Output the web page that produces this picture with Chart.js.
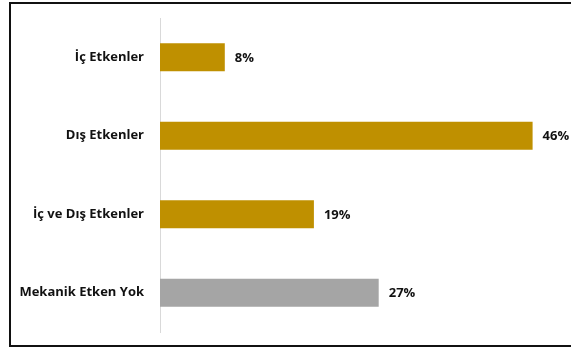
<!DOCTYPE html>
<html>
<head>
<meta charset="utf-8">
<script src="https://cdn.jsdelivr.net/npm/chart.js@4.4.0/dist/chart.umd.min.js"></script>
<style>
  html, body { margin: 0; padding: 0; background: #fff; overflow: hidden; }
  #wrap { position: relative; width: 571px; height: 347px; overflow: hidden; }
  canvas { position: absolute; left: 0; top: 0; }
  #frame { position: absolute; left: 9px; top: 2px; width: 580px; height: 341px; border: 2px solid #111; border-right: none; pointer-events: none; }
</style>
</head>
<body>
<div id="wrap">
  <canvas id="c" width="571" height="347"></canvas>
  <div id="frame"></div>
</div>
<script>
const categories = ["İç Etkenler", "Dış Etkenler", "İç ve Dış Etkenler", "Mekanik Etken Yok"];
const values = [8, 46, 19, 27];
const valueLabels = ["8%", "46%", "19%", "27%"];
const axisMax = 50;

const barColors = ["#BF9000", "#BF9000", "#BF9000", "#A5A5A5"];
const FONT = "'Open Sans', 'Liberation Sans', sans-serif";

const valueLabelPlugin = {
  id: 'valueLabels',
  afterDatasetsDraw(chart) {
    const ctx = chart.ctx;
    const meta = chart.getDatasetMeta(0);
    ctx.save();
    ctx.font = "bold 13px " + FONT;
    ctx.fillStyle = "#111";
    ctx.textAlign = "left";
    ctx.textBaseline = "middle";
    meta.data.forEach((bar, i) => {
      ctx.fillText(valueLabels[i], bar.x + 10, bar.y + 1);
    });
    ctx.restore();
  }
};

new Chart(document.getElementById('c'), {
  type: 'bar',
  data: {
    labels: categories,
    datasets: [{
      data: values,
      backgroundColor: barColors,
      borderWidth: 0,
      barPercentage: 0.357,
      categoryPercentage: 1
    }]
  },
  options: {
    indexAxis: 'y',
    responsive: false,
    animation: false,
    devicePixelRatio: 1,
    layout: { padding: { left: 0, right: 6, top: 18, bottom: 15 } },
    plugins: { legend: { display: false }, tooltip: { enabled: false } },
    scales: {
      x: { display: false, min: 0, max: axisMax },
      y: {
        afterFit(scale) { scale.width = 160; scale.paddingTop = 0; scale.paddingBottom = 0; },
        grid: { display: false, drawTicks: false },
        border: { display: true, color: "#d9d9d9", width: 1 },
        ticks: {
          padding: 16,
          color: "#111",
          font: { family: FONT, size: 13, weight: 'bold' }
        }
      }
    }
  },
  plugins: [valueLabelPlugin]
});
</script>
</body>
</html>
